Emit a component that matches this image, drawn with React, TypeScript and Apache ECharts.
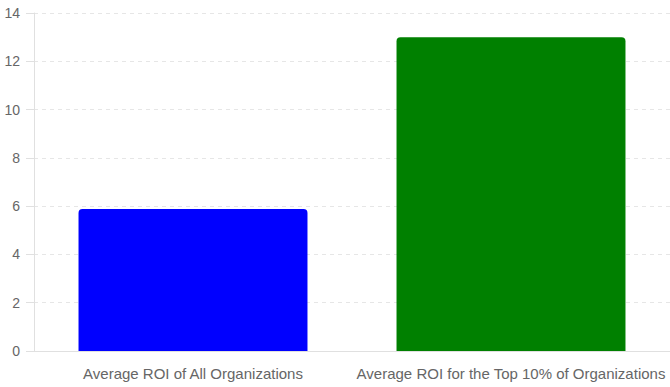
import React, { useEffect, useRef } from "react";
import * as echarts from "echarts";

const categories = ["Average ROI of All Organizations", "Average ROI for the Top 10% of Organizations"];
const roiValues = [5.88, 13];
const barColors = ["#0000ff", "#008000"];

export default function App() {
  const ref = useRef<HTMLDivElement>(null);
  useEffect(() => {
    const chart = echarts.init(ref.current!, null, { renderer: "svg" });
    chart.setOption({
      animation: false,
      grid: { left: 34, right: 0, top: 13, bottom: 36, containLabel: false },
      xAxis: {
        type: "category",
        data: categories,
        axisLine: { show: true, lineStyle: { color: "#e0e0e0" } },
        axisTick: { show: false },
        axisLabel: { color: "#666", fontSize: 15, fontFamily: "Liberation Sans, Arial, sans-serif", margin: 15, interval: 0 },
      },
      yAxis: {
        type: "value",
        min: 0,
        max: 14,
        interval: 2,
        axisLine: { show: true, lineStyle: { color: "#e0e0e0" } },
        axisTick: { show: true, length: 8, lineStyle: { color: "#e0e0e0" } },
        axisLabel: { color: "#666", fontSize: 14, fontFamily: "Liberation Sans, Arial, sans-serif", margin: 14 },
        splitLine: { show: true, lineStyle: { color: "#e6e6e6", type: [4, 4] } },
      },
      series: [
        {
          type: "bar",
          barWidth: "72%",
          data: roiValues.map((v, i) => ({ value: v, itemStyle: { color: barColors[i], borderRadius: [4, 4, 0, 0] } })),
        },
      ],
    });
    return () => chart.dispose();
  }, []);
  return <div ref={ref} style={{ width: 670, height: 387, position: "absolute", left: 0, top: 0 }} />;
}
